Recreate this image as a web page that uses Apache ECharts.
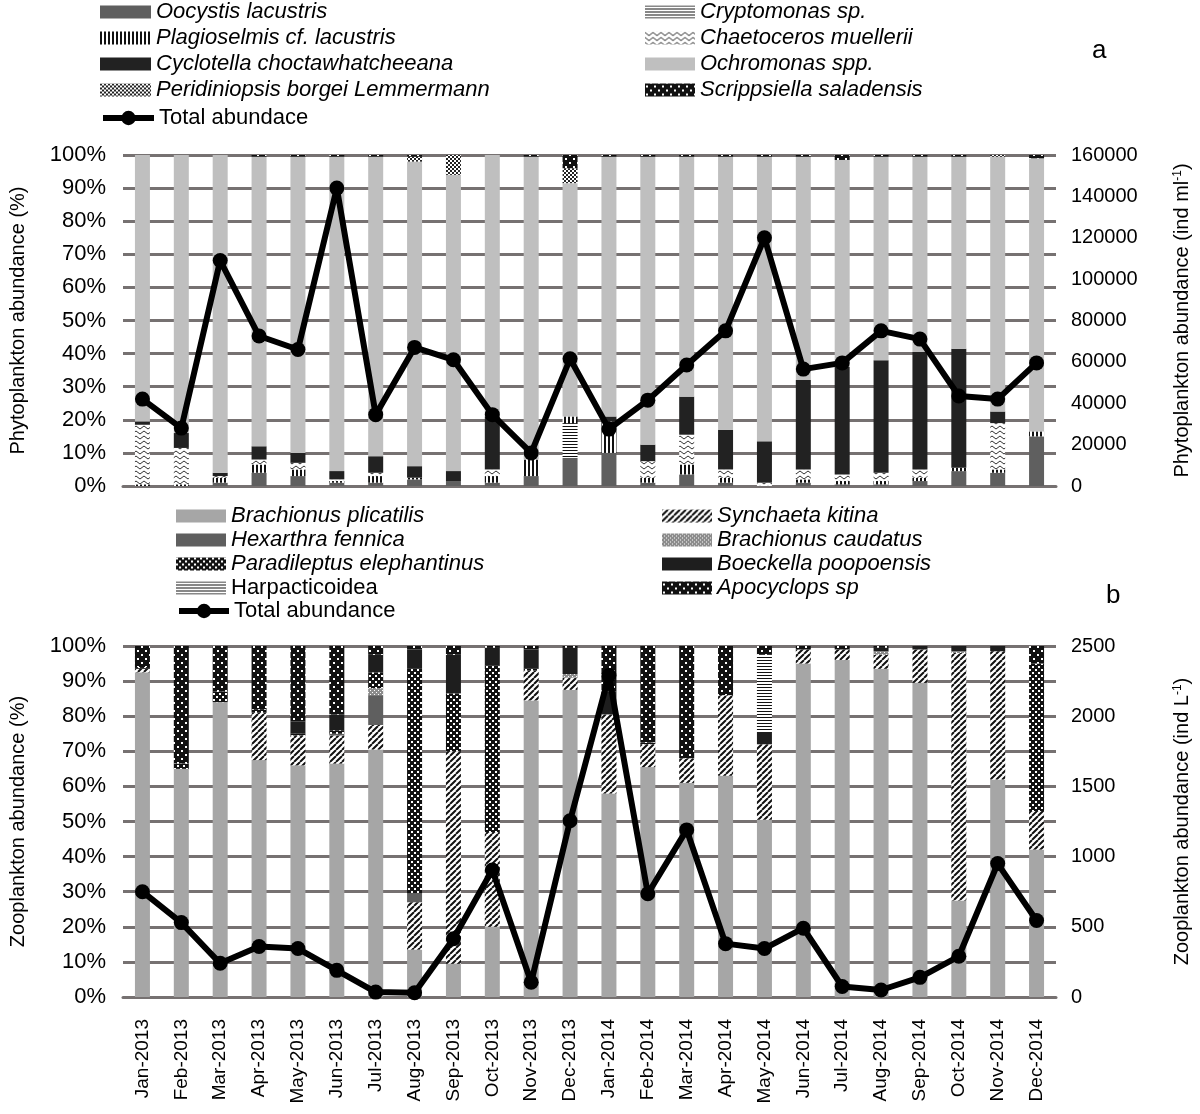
<!DOCTYPE html>
<html><head><meta charset="utf-8">
<script src="https://cdn.jsdelivr.net/npm/echarts@6/dist/echarts.min.js"></script>
<style>html,body{margin:0;padding:0;background:#fff}#c{width:1200px;height:1114px}</style>
</head><body><div id="c"></div>
<script>
// ---------- data ----------
const months = ['Jan-2013','Feb-2013','Mar-2013','Apr-2013','May-2013','Jun-2013','Jul-2013','Aug-2013','Sep-2013','Oct-2013','Nov-2013','Dec-2013',
                'Jan-2014','Feb-2014','Mar-2014','Apr-2014','May-2014','Jun-2014','Jul-2014','Aug-2014','Sep-2014','Oct-2014','Nov-2014','Dec-2014'];

// Phytoplankton (% composition)
const oocystis     = [0,0,1,4,3,1,1,2,1.5,1,3,8.5, 10,1,3.5,1,0,1,0.5,0.5,1.5,4.5,4,15];
const cryptomonas  = [0,0,0,0,0,0,0,0,0,0,0,10.5, 0,0,0,0,0,0,0,0,0,0,0,0];
const plagioselmis = [0.5,0.5,1.5,2.5,2,0.5,2,0.5,0,2,5,2, 9.5,1.5,3,1.5,0,1,1,1,1,1,1,1.5];
const chaetoceros  = [18,11,0.5,1.5,2,0.5,1,0,0,2,0,0, 0,5,9,2.5,1,3,2,2.5,2.5,0,14,0];
const cyclotella   = [1,4.5,1,4,3,2.5,5,3.5,3,16,0,0, 1.5,5,11.5,12,12.5,27,32.5,34,35.5,36,3.5,0];
const ochromonas   = [80.5,84,96,87.5,89.5,95,90.5,92,89.5,79,91.5,70.5, 78.5,87,72.5,82.5,86,67.5,62.5,61.5,59,58,77,82.5];
const peridiniopsis= [0,0,0,0,0,0,0,1.5,6,0,0,4.5, 0,0,0,0,0,0,0,0,0,0,0.5,0];
const scrippsiella = [0,0,0,0.5,0.5,0.5,0.5,0.5,0,0,0.5,4, 0.5,0.5,0.5,0.5,0.5,0.5,1.5,0.5,0.5,0.5,0,1];
const phytoTotal   = [42000,28000,109000,72500,66000,144000,34500,67000,61000,34500,16000,61500,
                      27500,41500,58500,75000,120000,56500,59500,75000,71000,43500,42000,59500];

// Zooplankton (% composition)
const bPlicatilis  = [92.5,65,84,67.5,66,66.5,70.5,13.5,9.5,20,84.5,87.5, 58,65.5,61,63,50.5,95,96,93.5,89.5,27.5,62,42];
const synchaeta    = [1,0,0,13.5,8.5,8,7,13.5,60.5,27,8.5,3.5, 22.5,6.5,7,23,21.5,4,3,4,9.5,70.5,36.5,11];
const hexarthra    = [0,0,0,0,0,0.5,8.5,2.5,0,0,0,0, 0,0,0,0,0,0,0,0,0,0,0,0];
const bCaudatus    = [0,0,0,0,0,0,2,0,0,0,0,1, 0,0,0,0,0,0,0,1,0,0.5,0,0];
const paradileptus = [0.5,1.5,3,1,0.5,1,4.5,64,16.5,47.5,0.5,0, 0,0.5,0,0,0,0,0,0,0,0,0,42];
const boeckella    = [0,0,0,0,3.5,4.5,5,5.5,11,5,5.5,7.5, 6.5,0,0,0,3.5,0,0,1,1,1.5,1.5,0];
const harpacticoidea=[0,0,0,0,0,0,0,0,0,0,0,0, 0,0,0,0,22,0,0,0,0,0,0,0];
const apocyclops   = [6,33.5,13,18,21.5,19.5,2.5,1,2.5,0.5,1,0.5, 13,27.5,32,14,2.5,1,1,0.5,0,0,0,5];
const zooTotal     = [750,530,240,360,345,190,35,30,415,905,105,1255, 2290,735,1190,380,345,490,75,50,140,290,950,545];

// ---------- patterns ----------
function pat(w,h,draw){const c=document.createElement('canvas');c.width=w;c.height=h;const g=c.getContext('2d');draw(g,w,h);return {image:c,repeat:'repeat'};}
const P = {
  zig: pat(8,5,(g)=>{g.fillStyle='#fff';g.fillRect(0,0,8,5);g.strokeStyle='#333';g.lineWidth=1;g.beginPath();g.moveTo(0,1);g.lineTo(4,4);g.lineTo(8,1);g.stroke();}),
  vstripe: pat(4,4,(g)=>{g.fillStyle='#fff';g.fillRect(0,0,4,4);g.fillStyle='#111';g.fillRect(0,0,2,4);}),
  hstripe: pat(3,3,(g)=>{g.fillStyle='#fff';g.fillRect(0,0,3,3);g.fillStyle='#111';g.fillRect(0,0,3,1);}),
  check: pat(4,4,(g)=>{g.fillStyle='#fff';g.fillRect(0,0,4,4);g.fillStyle='#222';g.fillRect(0,0,2,2);g.fillRect(2,2,2,2);}),
  dots: pat(8,8,(g)=>{g.fillStyle='#111';g.fillRect(0,0,8,8);g.fillStyle='#fff';g.fillRect(1,2,2,2);g.fillRect(5,6,2,2);}),
  hatch: pat(6,6,(g)=>{g.fillStyle='#fff';g.fillRect(0,0,6,6);g.strokeStyle='#111';g.lineWidth=2;g.beginPath();[-6,0,6].forEach(o=>{g.moveTo(o,6);g.lineTo(o+6,0);});g.stroke();}),
  bcaud: pat(4,4,(g)=>{g.fillStyle='#8c8c8c';g.fillRect(0,0,4,4);g.fillStyle='#fff';g.fillRect(0,0,1,1);g.fillRect(2,2,1,1);}),
  parad: pat(6,6,(g)=>{g.fillStyle='#111';g.fillRect(0,0,6,6);g.fillStyle='#fff';g.fillRect(0,0,2,2);g.fillRect(3,3,2,2);})
};

const FONT = "'Liberation Sans', Arial, sans-serif";
const GRID_COL = '#767171';

function bar(name, data, color, xi, yi, stack){
  return {name, type:'bar', stack, xAxisIndex:xi, yAxisIndex:yi, data, barWidth:15,
    itemStyle:{color}, emphasis:{disabled:true}};
}
function line(name, data, xi, yi){
  return {name, type:'line', xAxisIndex:xi, yAxisIndex:yi, data, symbol:'circle', symbolSize:15, z:10,
    lineStyle:{color:'#000', width:6}, itemStyle:{color:'#000'}, emphasis:{disabled:true}};
}

const series = [
  bar('Oocystis lacustris', oocystis, '#5f5f5f', 0, 0, 'a'),
  bar('Cryptomonas sp.', cryptomonas, P.hstripe, 0, 0, 'a'),
  bar('Plagioselmis cf. lacustris', plagioselmis, P.vstripe, 0, 0, 'a'),
  bar('Chaetoceros muellerii', chaetoceros, P.zig, 0, 0, 'a'),
  bar('Cyclotella choctawhatcheeana', cyclotella, '#222222', 0, 0, 'a'),
  bar('Ochromonas spp.', ochromonas, '#bfbfbf', 0, 0, 'a'),
  bar('Peridiniopsis borgei Lemmermann', peridiniopsis, P.check, 0, 0, 'a'),
  bar('Scrippsiella saladensis', scrippsiella, P.dots, 0, 0, 'a'),
  line('Total abundace', phytoTotal, 0, 1),
  bar('Brachionus plicatilis', bPlicatilis, '#a6a6a6', 1, 2, 'b'),
  bar('Synchaeta kitina', synchaeta, P.hatch, 1, 2, 'b'),
  bar('Hexarthra fennica', hexarthra, '#5f5f5f', 1, 2, 'b'),
  bar('Brachionus caudatus', bCaudatus, P.bcaud, 1, 2, 'b'),
  bar('Paradileptus elephantinus', paradileptus, P.parad, 1, 2, 'b'),
  bar('Boeckella poopoensis', boeckella, '#1e1e1e', 1, 2, 'b'),
  bar('Harpacticoidea', harpacticoidea, P.hstripe, 1, 2, 'b'),
  bar('Apocyclops sp', apocyclops, P.dots, 1, 2, 'b'),
  line('Total abundance', zooTotal, 1, 3)
];

const legTxt = {fontFamily:FONT, fontSize:22, fontStyle:'italic', color:'#000'};
function legendBars(left, top, names, gap, w){
  return {orient:'vertical', left, top, padding:0, itemWidth:w, itemHeight:13, itemGap:gap, textStyle:legTxt,
    selectedMode:false,
    data: names.map(n => n==='Harpacticoidea' ? {name:n, icon:'rect', textStyle:{fontStyle:'normal'}} : {name:n, icon:'rect'})};
}
function legendLine(left, top, name, w){
  return {orient:'vertical', left, top, padding:0, itemWidth:w, itemHeight:18, selectedMode:false,
    textStyle:{fontFamily:FONT, fontSize:22, color:'#000'},
    lineStyle:{width:6, color:'#000'}, itemStyle:{color:'#000'},
    data:[name]};
}

const nameStyle = {fontFamily:FONT, fontSize:20, color:'#000'};
function pctAxis(gi, name){
  return {type:'value', gridIndex:gi, min:0, max:100, interval:10, position:'left',
    axisLabel:{formatter:'{value}%', margin:17, fontFamily:FONT, fontSize:22, color:'#000'},
    axisLine:{show:false}, axisTick:{show:false},
    splitLine:{show:true, lineStyle:{color:GRID_COL, width:3}},
    name, nameLocation:'middle', nameGap:95, nameTextStyle:nameStyle};
}
function absAxis(gi, max, interval, nameMain){
  return {type:'value', gridIndex:gi, min:0, max, interval, position:'right',
    axisLabel:{margin:15, fontFamily:FONT, fontSize:20, color:'#000', formatter:(v)=>String(v)},
    axisLine:{show:false}, axisTick:{show:false}, splitLine:{show:false},
    name:'{a|'+nameMain+'}{s|-1}{a|)}', nameLocation:'middle', nameGap:116,
    nameTextStyle:{fontFamily:FONT, color:'#000', rich:{a:{fontFamily:FONT, fontSize:20, color:'#000'}, s:{fontFamily:FONT, fontSize:12, color:'#000', verticalAlign:'top', padding:[0,0,8,0]}}}};
}

const option = {
  animation:false,
  backgroundColor:'#fff',
  textStyle:{fontFamily:FONT},
  legend:[
    legendBars(100, 1, ['Oocystis lacustris','Plagioselmis cf. lacustris','Cyclotella choctawhatcheeana','Peridiniopsis borgei Lemmermann'], 4, 51),
    legendLine(100, 107, 'Total abundace', 51),
    legendBars(645, 1, ['Cryptomonas sp.','Chaetoceros muellerii','Ochromonas spp.','Scrippsiella saladensis'], 4, 50),
    legendBars(176, 505, ['Brachionus plicatilis','Hexarthra fennica','Paradileptus elephantinus','Harpacticoidea'], 2, 50),
    legendLine(176, 600, 'Total abundance', 50),
    legendBars(662, 505, ['Synchaeta kitina','Brachionus caudatus','Boeckella poopoensis','Apocyclops sp'], 2, 50)
  ],
  graphic:[
    {type:'text', left:1092, top:38, style:{text:'a', font:'26px '+FONT, fill:'#000'}},
    {type:'text', left:1106, top:583, style:{text:'b', font:'26px '+FONT, fill:'#000'}}
  ],
  grid:[
    {left:112, right:137, top:155, height:331},
    {left:112, right:137, top:646, height:351}
  ],
  xAxis:[
    {type:'category', gridIndex:0, data:months, axisLabel:{show:false}, axisTick:{show:false},
     axisLine:{show:true, lineStyle:{color:GRID_COL, width:3}}},
    {type:'category', gridIndex:1, data:months, axisTick:{show:false},
     axisLine:{show:true, lineStyle:{color:GRID_COL, width:3}},
     axisLabel:{rotate:90, interval:0, margin:22, fontFamily:FONT, fontSize:19, color:'#000'}}
  ],
  yAxis:[
    pctAxis(0, 'Phytoplankton abundance (%)'),
    absAxis(0, 160000, 20000, 'Phytoplankton abundance (ind ml'),
    pctAxis(1, 'Zooplankton abundance (%)'),
    absAxis(1, 2500, 500, 'Zooplankton abundance (ind L')
  ],
  series
};
const chart = echarts.init(document.getElementById('c'), null, {renderer:'canvas'});
chart.setOption(option);
</script>
</body></html>
